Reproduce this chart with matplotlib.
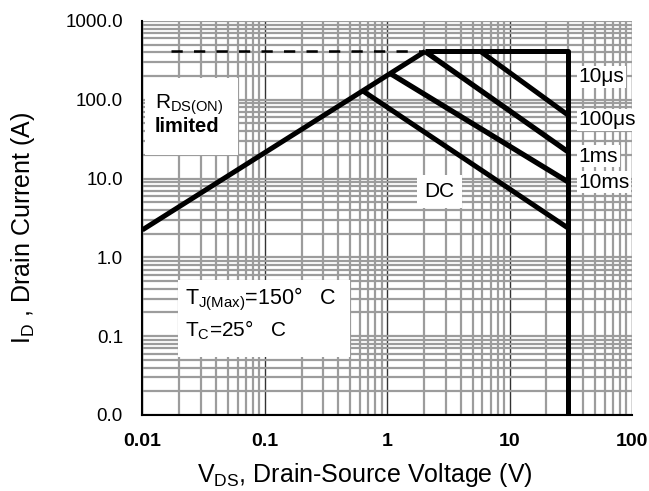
import numpy as np
import matplotlib.pyplot as plt
from matplotlib.patches import Rectangle
from matplotlib.ticker import FixedLocator, NullFormatter

plt.rcParams['font.family'] = ['Liberation Sans', 'DejaVu Sans']
plt.rcParams['mathtext.default'] = 'regular'

# safe operating area boundaries
rds_v = [0.01, 2.04]
rds_i = [2.23, 410]
limit_v = [2.04, 30, 30]        # 10 us: current limit then voltage limit
limit_i = [410, 410, 0.01]
pkg_v = [0.017, 2.04]           # dashed package limit
pkg_i = [410, 410]
us100_v = [5.8, 30]
us100_i = [410, 64]
ms1_v = [2.04, 30]
ms1_i = [410, 21.9]
ms10_v = [1.08, 30]
ms10_i = [212, 9.1]
dc_v = [0.64, 30]
dc_i = [128, 2.36]

x_ticks = [0.01, 0.1, 1, 10, 100]
x_labels = ["0.01", "0.1", "1", "10", "100"]
y_ticks = [0.01, 0.1, 1, 10, 100, 1000]
y_labels = ["0.0", "0.1", "1.0", "10.0", "100.0", "1000.0"]

pulse_labels = ["10\u03bcs", "100\u03bcs", "1ms", "10ms"]

fig = plt.figure(figsize=(6.49, 4.91), dpi=100)
ax = fig.add_axes([0.2193, 0.1548, 0.7545, 0.8025])
ax.set_xscale('log')
ax.set_yscale('log')
ax.set_xlim(0.01, 100)
ax.set_ylim(0.01, 1000)

minor = [m * 10.0**e for e in range(-2, 3) for m in range(2, 10)]
ax.xaxis.set_minor_locator(FixedLocator(minor))
ax.yaxis.set_minor_locator(FixedLocator(minor))
ax.xaxis.set_minor_formatter(NullFormatter())
ax.yaxis.set_minor_formatter(NullFormatter())
ax.set_xticks(x_ticks)
ax.set_xticklabels(x_labels, fontsize=14, fontweight='bold')
ax.set_yticks(y_ticks)
ax.set_yticklabels(y_labels, fontsize=13.5)
ax.tick_params(which='both', length=0)
ax.tick_params(axis='y', pad=14)
ax.tick_params(axis='x', pad=13)

ax.grid(which='minor', color='#9c9c9c', lw=1.6)
ax.yaxis.grid(which='major', color='#9c9c9c', lw=1.6)
ax.xaxis.grid(which='major', color='#333333', lw=1.0)
ax.set_axisbelow(True)

for s in ['top', 'right']:
    ax.spines[s].set_visible(False)
for s in ['left', 'bottom']:
    ax.spines[s].set_linewidth(1.5)

# white label boxes over the grid
for (x0, y0, w, h) in [(0.006, 0.66, 0.19, 0.195),
                       (0.561, 0.525, 0.092, 0.084),
                       (0.073, 0.147, 0.352, 0.196)]:
    ax.add_patch(Rectangle((x0, y0), w, h, transform=ax.transAxes,
                           facecolor='white', edgecolor='none', zorder=1.5))

kw = dict(color='black', solid_capstyle='butt', zorder=3)
ax.plot(rds_v, rds_i, lw=3.6, **kw)
ax.plot(limit_v, limit_i, lw=3.6, **kw)
ax.plot(us100_v, us100_i, lw=3.6, **kw)
ax.plot(ms1_v, ms1_i, lw=3.8, **kw)
ax.plot(ms10_v, ms10_i, lw=3.8, **kw)
ax.plot(dc_v, dc_i, lw=3.6, **kw)
ax.plot(pkg_v, pkg_i, color='black', lw=1.8, ls=(0, (4.5, 4.5)), zorder=3)

ax.text(0.026, 0.787, r"R$_{DS(ON)}$", transform=ax.transAxes, fontsize=15,
        va='center', zorder=4)
ax.text(0.026, 0.731, "limited", transform=ax.transAxes, fontsize=14.5,
        fontweight='bold', va='center', zorder=4)
ax.text(0.607, 0.566, "DC", transform=ax.transAxes, fontsize=15,
        ha='center', va='center', zorder=4)
ax.text(0.087, 0.292, r"T$_{J(Max)}$=150°   C", transform=ax.transAxes,
        fontsize=15.5, va='center', zorder=4)
ax.text(0.087, 0.216, r"T$_{C}$=25°   C", transform=ax.transAxes,
        fontsize=15, va='center', zorder=4)

for lab, fy in zip(pulse_labels, [0.858, 0.749, 0.657, 0.591]):
    ax.text(0.891, fy, lab, transform=ax.transAxes, fontsize=15,
            va='center', clip_on=False, zorder=4,
            bbox=dict(facecolor='white', edgecolor='none', pad=1.0))

ax.set_xlabel(r"V$_{DS}$, Drain-Source Voltage (V)", fontsize=18)
ax.set_ylabel(r"I$_D$ , Drain Current (A)", fontsize=18)
ax.xaxis.set_label_coords(0.455, -0.117)
ax.yaxis.set_label_coords(-0.215, 0.475)

fig.savefig("out.png", dpi=100)
